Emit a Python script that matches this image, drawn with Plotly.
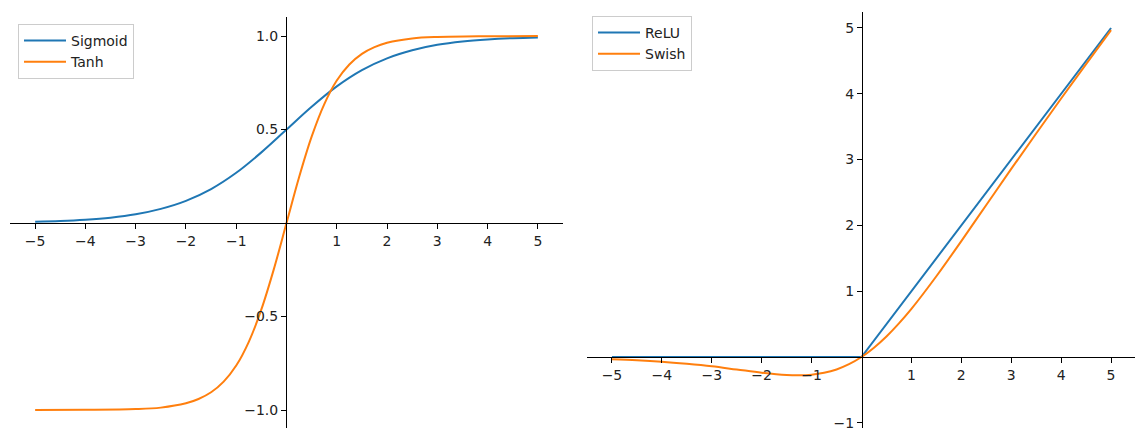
import plotly.graph_objects as go

# ---- data ----
x_sig = [-5, -4.5, -4, -3.5, -3, -2.5, -2, -1.5, -1, -0.5, 0, 0.5, 1, 1.5, 2, 2.5, 3, 3.5, 4, 4.5, 5]
y_sigmoid = [0.007, 0.011, 0.018, 0.029, 0.047, 0.076, 0.119, 0.182, 0.269, 0.378, 0.5,
             0.622, 0.731, 0.818, 0.881, 0.924, 0.953, 0.971, 0.982, 0.989, 0.993]

x_tanh = [-5, -4, -3, -2.5, -2, -1.75, -1.5, -1.25, -1, -0.75, -0.5, -0.25, 0,
          0.25, 0.5, 0.75, 1, 1.25, 1.5, 1.75, 2, 2.5, 3, 4, 5]
y_tanh = [-1.0, -0.999, -0.995, -0.987, -0.964, -0.941, -0.905, -0.848, -0.762, -0.635, -0.462, -0.245, 0.0,
          0.245, 0.462, 0.635, 0.762, 0.848, 0.905, 0.941, 0.964, 0.987, 0.995, 0.999, 1.0]

x_relu = [-5, 0, 5]
y_relu = [0, 0, 5]

x_swish = [-5, -4.5, -4, -3.5, -3, -2.5, -2, -1.5, -1.25, -1, -0.75, -0.5, -0.25, 0,
           0.25, 0.5, 0.75, 1, 1.5, 2, 2.5, 3, 3.5, 4, 4.5, 5]
y_swish = [-0.033, -0.049, -0.072, -0.104, -0.142, -0.190, -0.238, -0.273, -0.278, -0.269, -0.240, -0.189, -0.109, 0.0,
           0.141, 0.311, 0.510, 0.731, 1.227, 1.762, 2.310, 2.858, 3.397, 3.928, 4.451, 4.967]

x_tickvals = [-5, -4, -3, -2, -1, 1, 2, 3, 4, 5]
x_ticktext = ["−5", "−4", "−3", "−2", "−1", "1", "2", "3", "4", "5"]
y1_tickvals = [-1.0, -0.5, 0.5, 1.0]
y1_ticktext = ["−1.0", "−0.5", "0.5", "1.0"]
y2_tickvals = [-1, 1, 2, 3, 4, 5]
y2_ticktext = ["−1", "1", "2", "3", "4", "5"]

BLUE = "#1f77b4"
ORANGE = "#ff7f0e"
W, H = 1135, 428
FONT = "DejaVu Sans"

fig = go.Figure()
fig.add_trace(go.Scatter(x=x_sig, y=y_sigmoid, name="Sigmoid", mode="lines",
                         line=dict(color=BLUE, width=2, shape="spline"),
                         xaxis="x", yaxis="y", legend="legend"))
fig.add_trace(go.Scatter(x=x_tanh, y=y_tanh, name="Tanh", mode="lines",
                         line=dict(color=ORANGE, width=2, shape="spline"),
                         xaxis="x", yaxis="y", legend="legend"))
fig.add_trace(go.Scatter(x=x_relu, y=y_relu, name="ReLU", mode="lines",
                         line=dict(color=BLUE, width=2),
                         xaxis="x2", yaxis="y2", legend="legend2"))
fig.add_trace(go.Scatter(x=x_swish, y=y_swish, name="Swish", mode="lines",
                         line=dict(color=ORANGE, width=2, shape="spline"),
                         xaxis="x2", yaxis="y2", legend="legend2"))

axis_common = dict(showline=True, linecolor="#000000", linewidth=1, ticks="outside",
                   ticklen=5, tickwidth=1, tickcolor="#000000", showgrid=False,
                   zeroline=False, ticklabeloverflow="allow", automargin=False,
                   tickfont=dict(family=FONT, size=14, color="#222222"))

legend_common = dict(xanchor="left", yanchor="top",
                     bgcolor="rgba(255,255,255,0.8)", bordercolor="#cccccc", borderwidth=1,
                     font=dict(family=FONT, size=14, color="#222222"), tracegroupgap=0,
                     itemwidth=42)

fig.update_layout(
    width=W, height=H,
    margin=dict(l=0, r=0, t=0, b=0, autoexpand=False),
    paper_bgcolor="white", plot_bgcolor="white",
    font=dict(family=FONT, size=14, color="#222222"),
    xaxis=dict(domain=[10 / W, 563 / W], range=[-5.5, 5.5], anchor="free",
               position=1 - 223 / H, tickvals=x_tickvals, ticktext=x_ticktext, **axis_common),
    yaxis=dict(domain=[0, 1 - 17 / H], range=[-1.096, 1.102], anchor="free",
               position=286 / W, tickvals=y1_tickvals, ticktext=y1_ticktext, **axis_common),
    xaxis2=dict(domain=[587 / W, 1.0], range=[-5.5, 5.48], anchor="free",
                position=1 - 357 / H, tickvals=x_tickvals, ticktext=x_ticktext, **axis_common),
    yaxis2=dict(domain=[0, 1 - 12 / H], range=[-1.079, 5.243], anchor="free",
                position=862 / W, tickvals=y2_tickvals, ticktext=y2_ticktext, **axis_common),
    legend=dict(x=18 / W, y=1 - 24 / H, **legend_common),
    legend2=dict(x=592 / W, y=1 - 16 / H, **legend_common),
    showlegend=True,
)

fig.write_html("out.html")
